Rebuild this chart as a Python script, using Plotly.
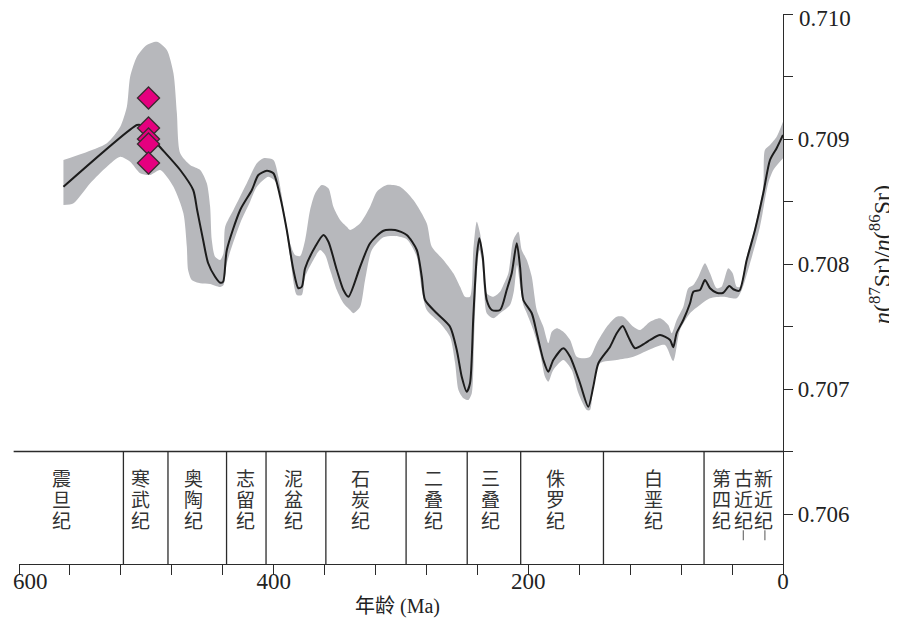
import plotly.graph_objects as go

# ---- data (age in Ma, value = 87Sr/86Sr) ----
curve_age = [565.1, 507.4, 504.8, 500.9, 490.7, 473.4, 463.2, 460.1, 455.4, 451.5, 446.0, 442.0, 439.7,
             436.8, 426.3, 417.1, 412.0, 405.4, 400.2, 394.9, 389.7, 384.5, 380.6, 377.9, 375.3, 367.4,
             360.9, 357.0, 350.4, 345.2, 341.3, 332.1, 324.3, 313.8, 304.6, 295.5, 287.6, 283.7, 281.1,
             271.9, 261.5, 256.2, 252.3, 248.4, 245.8, 243.2, 240.5, 238.5, 235.8, 232.7, 228.7, 222.2,
             217.0, 213.0, 209.1, 206.5, 203.9, 197.3, 193.4, 188.2, 184.3, 180.4, 172.5, 167.2, 159.4,
             152.9, 149.0, 145.0, 135.8, 130.6, 125.9, 121.5, 116.2, 108.4, 104.4, 96.6, 88.7, 86.2,
             83.5, 78.3, 73.0, 70.4, 65.2, 61.3, 57.3, 52.1, 46.9, 42.2, 39.0, 34.3, 28.5, 22.0, 15.5,
             10.2, 5.0, 0.0]
curve_sr = [0.708618, 0.709112, 0.709112, 0.709072, 0.708952, 0.708752, 0.708592, 0.708432, 0.708192,
            0.708008, 0.707898, 0.707850, 0.707858, 0.708112, 0.708432, 0.708592, 0.708712, 0.708746,
            0.708726, 0.708538, 0.708272, 0.707952, 0.707806, 0.707818, 0.707966, 0.708138, 0.708232,
            0.708178, 0.707952, 0.707792, 0.707738, 0.707978, 0.708166, 0.708266, 0.708272, 0.708232,
            0.708112, 0.707898, 0.707712, 0.707606, 0.707498, 0.707312, 0.707098, 0.706978, 0.707046,
            0.707578, 0.708058, 0.708206, 0.708058, 0.707712, 0.707632, 0.707632, 0.707792, 0.707928,
            0.708166, 0.707978, 0.707712, 0.707606, 0.707448, 0.707232, 0.707138, 0.707232, 0.707326,
            0.707258, 0.707046, 0.706858, 0.707018, 0.707206, 0.707338, 0.707446, 0.707504, 0.707418,
            0.707326, 0.707366, 0.707392, 0.707432, 0.707392, 0.707334, 0.707448, 0.707552, 0.707686,
            0.707778, 0.707792, 0.707872, 0.707806, 0.707770, 0.707770, 0.707824, 0.707798, 0.707786,
            0.708032, 0.708272, 0.708566, 0.708832, 0.708926, 0.709032]

upper_age = [565.1, 549.4, 531.0, 520.5, 515.3, 512.7, 507.4, 499.6, 491.7, 483.9, 478.7, 476.0, 473.4,
             465.6, 457.7, 452.5, 449.9, 448.6, 446.0, 442.0, 439.4, 438.1, 431.6, 421.1, 413.2, 408.0,
             400.2, 396.3, 391.0, 387.1, 383.2, 379.2, 375.3, 371.4, 367.4, 362.2, 357.0, 353.1, 347.8,
             342.6, 340.0, 332.1, 324.3, 319.0, 311.2, 300.7, 290.3, 279.8, 275.8, 266.7, 258.9, 253.6,
             249.7, 245.8, 243.2, 240.5, 237.9, 235.3, 232.7, 227.5, 222.2, 219.6, 215.7, 211.8, 207.8,
             205.2, 201.2, 197.3, 193.4, 188.2, 184.3, 181.6, 177.7, 172.5, 167.2, 162.0, 156.8, 151.5,
             146.3, 138.4, 130.6, 125.4, 117.5, 112.3, 104.4, 96.6, 90.1, 87.4, 83.5, 78.3, 74.4, 70.4,
             66.5, 61.3, 57.3, 52.1, 48.2, 43.0, 39.5, 36.4, 33.8, 28.5, 22.0, 15.5, 14.2, 10.2, 5.0, 0.0]
upper_sr = [0.708832, 0.708886, 0.708966, 0.709098, 0.709258, 0.709498, 0.709658, 0.709752, 0.709778,
            0.709712, 0.709526, 0.709206, 0.708886, 0.708792, 0.708752, 0.708646, 0.708458, 0.708192,
            0.708058, 0.708032, 0.708086, 0.708298, 0.708432, 0.708646, 0.708806, 0.708846, 0.708832,
            0.708698, 0.708378, 0.708166, 0.708072, 0.708064, 0.708192, 0.708432, 0.708566, 0.708632,
            0.708606, 0.708458, 0.708352, 0.708298, 0.708272, 0.708326, 0.708458, 0.708578, 0.708632,
            0.708618, 0.708512, 0.708326, 0.708138, 0.708032, 0.707926, 0.707818, 0.707738, 0.707738,
            0.708112, 0.708338, 0.708246, 0.708032, 0.707766, 0.707738, 0.707778, 0.707832, 0.707926,
            0.708192, 0.708258, 0.708112, 0.708032, 0.707898, 0.707632, 0.707498, 0.707366, 0.707458,
            0.707486, 0.707458, 0.707392, 0.707258, 0.707246, 0.707258, 0.707366, 0.707498, 0.707578,
            0.707578, 0.707498, 0.707472, 0.707538, 0.707566, 0.707512, 0.707446, 0.707552, 0.707658,
            0.707806, 0.707832, 0.707898, 0.708006, 0.707926, 0.707806, 0.707818, 0.707966, 0.707926,
            0.707818, 0.707818, 0.708058, 0.708298, 0.708618, 0.708912, 0.708952, 0.709018, 0.709138]

lower_age = [565.1, 557.2, 544.1, 531.0, 520.5, 512.7, 504.8, 497.0, 489.1, 478.7, 470.9, 468.2, 467.2,
             464.3, 457.7, 449.9, 442.0, 439.4, 436.8, 426.3, 418.5, 413.2, 404.1, 397.5, 392.3, 387.1,
             381.8, 377.9, 375.3, 368.8, 363.5, 359.6, 355.7, 350.4, 345.2, 340.0, 337.4, 332.1, 328.2,
             322.9, 313.8, 304.6, 295.5, 287.6, 283.7, 279.8, 269.3, 261.5, 257.5, 254.9, 251.0, 247.1,
             244.4, 242.6, 240.5, 238.5, 236.3, 234.8, 232.7, 227.5, 222.2, 214.4, 211.2, 208.9, 206.5,
             203.9, 201.2, 196.1, 190.8, 186.9, 184.3, 180.4, 172.5, 165.9, 160.7, 154.1, 151.5, 149.0,
             143.7, 130.6, 117.5, 101.8, 92.7, 86.2, 80.9, 73.0, 65.2, 57.3, 46.9, 36.4, 32.4, 25.9,
             18.1, 11.6, 7.6, 0.0]
lower_sr = [0.708472, 0.708486, 0.708646, 0.708778, 0.708858, 0.708818, 0.708726, 0.708712, 0.708752,
            0.708618, 0.708406, 0.708138, 0.707952, 0.707872, 0.707846, 0.707840, 0.707816, 0.707832,
            0.708006, 0.708326, 0.708498, 0.708618, 0.708698, 0.708646, 0.708406, 0.708058, 0.707752,
            0.707752, 0.707898, 0.708032, 0.708112, 0.708072, 0.707952, 0.707792, 0.707686, 0.707632,
            0.707606, 0.707658, 0.707872, 0.708112, 0.708214, 0.708224, 0.708198, 0.708058, 0.707792,
            0.707632, 0.707526, 0.707418, 0.707206, 0.706992, 0.706926, 0.706912, 0.706966, 0.707392,
            0.707912, 0.708112, 0.708016, 0.707792, 0.707606, 0.707566, 0.707606, 0.707672, 0.707792,
            0.707992, 0.707832, 0.707672, 0.707606, 0.707472, 0.707286, 0.707098, 0.707058, 0.707152,
            0.707232, 0.707152, 0.706966, 0.706832, 0.706832, 0.707018, 0.707206, 0.707232, 0.707258,
            0.707328, 0.707352, 0.707224, 0.707472, 0.707606, 0.707672, 0.707726, 0.707738, 0.707726,
            0.707792, 0.708006, 0.708298, 0.708646, 0.708752, 0.708846]

diamond_age = [498.3, 498.3, 498.3, 498.3, 498.3]
diamond_sr = [0.709328, 0.709088, 0.709000, 0.708960, 0.708808]

period_bounds = [518, 483, 437, 406, 359, 296, 248, 206, 141, 62]
period_names = ["震旦纪", "寒武纪", "奥陶纪", "志留纪", "泥盆纪", "石炭纪", "二叠纪", "三叠纪",
                "侏罗纪", "白垩纪", "第四纪", "古近纪", "新近纪"]
label_age = [566.3, 504.8, 463.0, 422.4, 384.5, 332.1, 274.6, 230.1, 179.0, 101.8, 48.1, 31.2, 15.5]

y_ticks = [0.706, 0.707, 0.708, 0.709, 0.710]
x_ticks = [600, 400, 200, 0]

# ---- styling ----
AX = "#2b2b2b"
SERIF = "Liberation Serif, Noto Sans CJK SC, serif"
CJK = "Noto Sans CJK SC, sans-serif"
BOX_TOP = 0.7065
Y_MIN, Y_MAX = 0.7056, 0.7100
CHAR_Y = [0.706296, 0.706128, 0.705960]   # three stacked characters per column
TICK_FONT = dict(family=SERIF, size=23, color="#222")

fig = go.Figure()

fig.add_trace(go.Scatter(x=lower_age, y=lower_sr, mode="lines",
                         line=dict(width=0, shape="spline", smoothing=0.7, color="#b7b8bc"),
                         hoverinfo="skip", showlegend=False))
fig.add_trace(go.Scatter(x=upper_age, y=upper_sr, mode="lines", fill="tonexty",
                         fillcolor="#b7b8bc",
                         line=dict(width=0, shape="spline", smoothing=0.7, color="#b7b8bc"),
                         hoverinfo="skip", showlegend=False))
fig.add_trace(go.Scatter(x=curve_age, y=curve_sr, mode="lines",
                         line=dict(width=2, shape="spline", smoothing=0.7, color="#1c1c1c"),
                         showlegend=False))
fig.add_trace(go.Scatter(x=diamond_age, y=diamond_sr, mode="markers",
                         marker=dict(symbol="diamond", size=17, color="#e5007f",
                                     line=dict(color="#3a2a30", width=1.3)),
                         showlegend=False))

shapes = [dict(type="line", xref="paper", yref="y", x0=-0.007, x1=1, y0=BOX_TOP, y1=BOX_TOP,
               line=dict(color=AX, width=1.3))]
for b in period_bounds:
    shapes.append(dict(type="line", xref="x", yref="y", x0=b, x1=b, y0=Y_MIN, y1=BOX_TOP,
                       line=dict(color=AX, width=1.3)))
for a in [31.2, 14.2]:
    shapes.append(dict(type="line", xref="x", yref="y", x0=a, x1=a, y0=0.70579, y1=0.70587,
                       line=dict(color="#555", width=1)))

annotations = []
for name, a in zip(period_names, label_age):
    for ch, cy in zip(name, CHAR_Y):
        annotations.append(dict(x=a, y=cy, xref="x", yref="y", text=ch,
                                showarrow=False, font=dict(family=CJK, size=19, color="#333"),
                                xanchor="center", yanchor="middle"))
annotations.append(dict(xref="paper", yref="paper", x=1.127, y=0.562,
                        text="<i>n</i>(<sup>87</sup>Sr)/<i>n</i>(<sup>86</sup>Sr)",
                        textangle=-90, showarrow=False,
                        font=dict(family=SERIF, size=24, color="#222"),
                        xanchor="center", yanchor="middle"))
annotations.append(dict(xref="paper", yref="paper", x=0.496, y=-0.0764,
                        text="年龄 (Ma)", showarrow=False,
                        font=dict(family=SERIF, size=20, color="#222"),
                        xanchor="center", yanchor="middle"))
# edge tick labels placed so they stay inside the page (as in the original figure)
annotations.append(dict(xref="paper", yref="paper", x=0.0144, y=-0.0327, text=str(x_ticks[0]),
                        showarrow=False, font=TICK_FONT, xanchor="center", yanchor="middle"))
annotations.append(dict(xref="paper", yref="paper", x=1.0183, y=0.9927, text=f"{y_ticks[-1]:.3f}",
                        showarrow=False, font=TICK_FONT, xanchor="left", yanchor="middle"))

# page body has an 8 px margin, so the figure is drawn 8 px in and 8 px down
fig.update_layout(
    width=889, height=614,
    margin=dict(l=11, r=114, t=6, b=58, autoexpand=False),
    paper_bgcolor="white", plot_bgcolor="white",
    shapes=shapes, annotations=annotations,
    xaxis=dict(range=[600, 0], showline=True, linecolor=AX, linewidth=1.3, automargin=False,
               ticks="outside", ticklen=10, tickcolor=AX, tickwidth=1.3,
               tickvals=x_ticks, ticktext=[""] + [str(v) for v in x_ticks[1:]],
               ticklabelstandoff=-14,
               minor=dict(dtick=40, ticks="outside", ticklen=10, tickcolor=AX, tickwidth=1.3),
               showgrid=False, zeroline=False, tickfont=TICK_FONT),
    yaxis=dict(range=[Y_MIN, Y_MAX], side="right", showline=True, linecolor=AX, linewidth=1.3,
               automargin=False,
               ticks="outside", ticklen=9, tickcolor=AX, tickwidth=1.3,
               tickvals=y_ticks, ticktext=[f"{v:.3f}" for v in y_ticks[:-1]] + [""],
               minor=dict(dtick=0.0005, tick0=0.706, ticks="outside", ticklen=9,
                          tickcolor=AX, tickwidth=1.3),
               showgrid=False, zeroline=False, tickfont=TICK_FONT),
)

fig.write_html("out.html")
